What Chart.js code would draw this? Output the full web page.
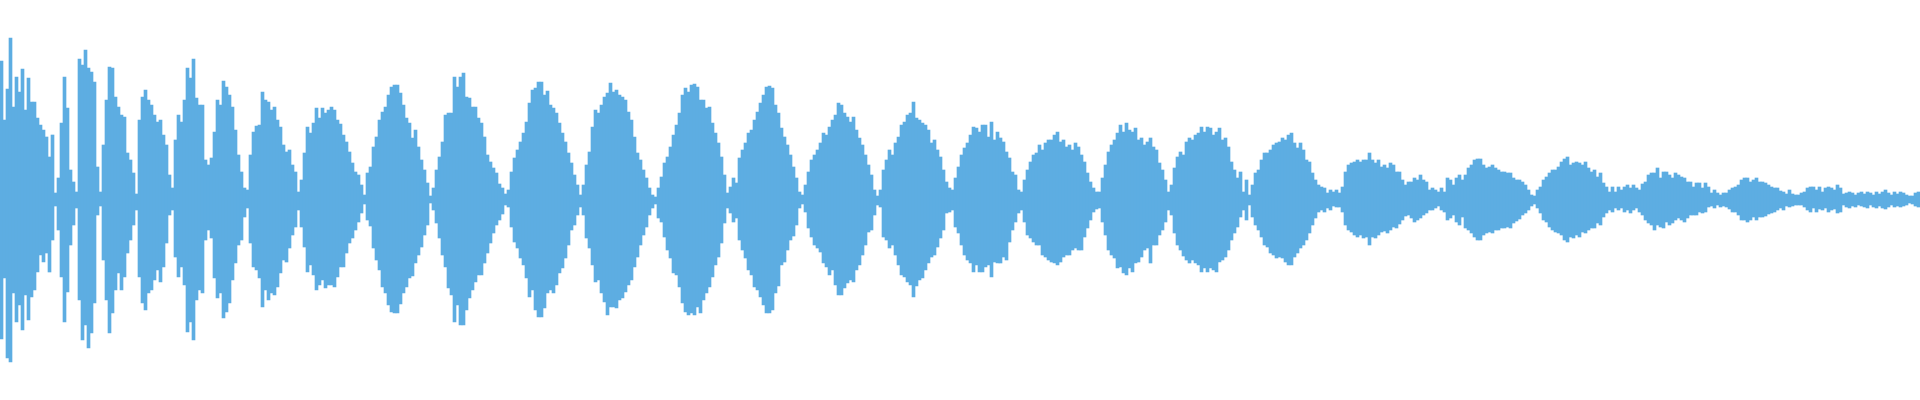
<!DOCTYPE html>
<html>
<head>
<meta charset="utf-8">
<script src="https://cdn.jsdelivr.net/npm/chart.js@4"></script>
<style>
  html, body { margin: 0; padding: 0; background: #fff; }
  #wrap { width: 1920px; height: 400px; }
</style>
</head>
<body>
<div id="wrap"><canvas id="wave"></canvas></div>
<script>
// --- waveform data: one bar per 3px column, peak above / below the zero line ---
const peakHi = [
  139,80,111,162,93,123,108,131,90,122,
  98,98,82,75,70,63,43,65,7,22,
  77,123,92,30,18,8,141,135,150,132,
  128,118,33,8,55,100,133,132,103,93,
  85,83,47,40,27,6,80,103,110,100,
  95,85,78,80,65,55,25,12,60,85,
  78,100,132,122,141,102,95,95,40,35,
  42,68,100,95,119,113,105,93,70,45,
  28,12,10,45,68,74,75,108,100,98,
  90,93,80,73,55,48,50,35,28,8,
  20,47,73,67,77,92,82,92,87,90,
  93,90,80,76,65,58,48,37,28,25,
  15,5,27,33,53,63,80,88,93,105,
  113,115,115,107,95,82,77,62,70,53,
  40,30,17,4,12,30,43,58,85,87,
  87,123,113,123,127,103,102,93,93,82,
  77,63,45,38,32,27,16,12,6,10,
  28,42,50,58,67,78,97,110,112,118,
  118,105,109,95,92,87,77,67,58,47,
  37,25,15,5,15,35,48,73,90,87,
  95,103,107,117,108,110,105,103,100,88,
  80,63,47,40,30,22,12,5,3,12,
  23,37,43,53,65,75,87,105,112,108,
  115,116,113,100,100,92,93,77,67,57,
  43,25,7,13,22,17,42,50,57,67,
  70,80,88,97,105,113,114,112,95,87,
  72,63,55,45,33,22,8,5,15,28,
  40,45,50,57,67,65,73,80,85,97,
  95,87,83,78,83,70,62,55,45,35,
  25,10,4,10,30,40,50,45,57,63,
  75,78,85,87,98,82,80,77,75,70,
  57,60,50,43,30,18,12,10,22,33,
  45,52,57,65,73,72,68,75,75,63,
  78,60,68,62,58,48,42,28,25,10,
  8,20,30,38,45,47,55,50,57,60,
  60,65,68,58,60,53,55,50,57,53,
  45,38,27,18,12,8,8,22,35,48,
  55,60,67,75,68,77,70,68,72,60,
  62,55,58,62,53,50,37,30,20,8,
  15,32,43,48,45,58,62,60,65,67,
  73,68,73,72,65,68,72,60,62,53,
  38,30,22,28,8,20,5,15,27,30,
  40,47,47,50,55,57,58,62,60,65,
  67,57,52,57,50,40,38,27,20,15,
  13,12,7,10,8,10,7,13,28,35,
  37,38,40,38,40,40,47,40,37,40,
  33,35,32,37,35,28,28,20,15,18,
  18,22,20,25,20,18,10,12,10,8,
  12,8,22,20,15,22,25,20,25,32,
  35,40,41,41,35,32,33,35,32,30,
  28,28,27,27,22,20,20,18,15,10,
  5,4,10,13,20,23,27,30,30,33,
  38,41,43,35,37,38,37,35,38,32,
  28,30,23,27,17,13,8,13,8,13,
  10,13,15,12,15,12,10,16,18,25,
  27,27,32,22,28,28,25,22,27,25,
  23,22,18,18,13,17,17,12,17,13,
  7,10,7,5,7,7,10,12,13,15,
  20,22,22,18,20,22,18,18,17,15,
  13,12,12,9,8,6,10,6,5,5,
  7,8,12,13,13,10,13,8,12,13,
  12,10,15,12,6,7,8,7,5,7,
  8,6,8,7,5,8,6,8,10,7,
  5,8,6,8,7,5,4,4,7,8
];
const peakLo = [
  -139,-78,-158,-162,-93,-122,-105,-130,-95,-120,
  -97,-90,-72,-55,-62,-53,-72,-40,-6,-30,
  -77,-122,-92,-45,-25,-8,-100,-140,-125,-148,
  -133,-103,-15,-6,-60,-100,-133,-113,-90,-73,
  -90,-77,-53,-40,-25,-10,-77,-103,-110,-93,
  -90,-80,-70,-82,-67,-43,-15,-10,-57,-77,
  -67,-85,-132,-122,-140,-100,-90,-93,-40,-30,
  -38,-78,-98,-93,-118,-112,-103,-80,-63,-45,
  -40,-17,-8,-43,-67,-70,-78,-107,-90,-100,
  -93,-95,-87,-73,-60,-62,-48,-35,-27,-10,
  -27,-47,-72,-65,-75,-90,-85,-80,-88,-85,
  -85,-87,-77,-67,-67,-53,-43,-38,-30,-22,
  -13,-4,-20,-26,-48,-60,-70,-87,-93,-105,
  -112,-113,-113,-104,-93,-87,-78,-76,-63,-55,
  -47,-35,-25,-3,-10,-23,-38,-55,-67,-88,
  -95,-122,-105,-125,-125,-110,-98,-90,-82,-75,
  -75,-63,-53,-43,-33,-25,-20,-14,-5,-7,
  -27,-42,-48,-58,-65,-78,-97,-90,-110,-117,
  -117,-108,-93,-90,-93,-85,-73,-68,-58,-45,
  -30,-25,-15,-7,-15,-38,-48,-65,-82,-80,
  -93,-102,-115,-107,-107,-108,-100,-98,-92,-85,
  -80,-67,-57,-45,-35,-27,-15,-8,-4,-18,
  -22,-37,-50,-58,-73,-75,-87,-103,-112,-115,
  -113,-115,-107,-113,-100,-93,-87,-77,-65,-57,
  -43,-23,-8,-13,-22,-18,-40,-50,-58,-70,
  -75,-87,-90,-97,-105,-113,-113,-110,-93,-86,
  -65,-62,-50,-40,-36,-25,-8,-4,-12,-28,
  -37,-45,-48,-52,-63,-67,-75,-70,-85,-95,
  -95,-88,-83,-80,-82,-70,-65,-55,-45,-32,
  -30,-15,-5,-7,-37,-40,-48,-45,-55,-65,
  -75,-77,-82,-85,-97,-86,-80,-78,-70,-63,
  -57,-55,-47,-38,-30,-13,-12,-10,-27,-33,
  -45,-55,-60,-63,-72,-65,-72,-72,-67,-65,
  -77,-62,-63,-63,-57,-60,-42,-30,-22,-13,
  -10,-22,-35,-38,-42,-45,-45,-55,-57,-60,
  -62,-63,-65,-62,-57,-55,-55,-50,-48,-50,
  -50,-37,-28,-20,-12,-9,-8,-22,-35,-50,
  -55,-58,-68,-67,-73,-75,-68,-72,-63,-62,
  -57,-50,-48,-63,-45,-45,-35,-30,-22,-10,
  -15,-33,-45,-50,-56,-60,-63,-60,-63,-65,
  -72,-68,-72,-68,-70,-72,-62,-60,-57,-50,
  -40,-33,-27,-17,-10,-20,-5,-17,-25,-30,
  -37,-45,-47,-53,-55,-58,-57,-58,-62,-65,
  -65,-57,-53,-48,-45,-40,-33,-25,-18,-12,
  -10,-12,-8,-10,-6,-7,-7,-12,-25,-30,
  -32,-35,-37,-35,-38,-37,-45,-37,-38,-35,
  -32,-31,-33,-30,-27,-28,-24,-20,-16,-15,
  -18,-22,-20,-18,-15,-13,-10,-10,-8,-6,
  -10,-12,-20,-18,-15,-22,-25,-17,-28,-30,
  -33,-37,-40,-40,-35,-33,-32,-33,-30,-30,
  -28,-28,-27,-28,-23,-21,-19,-15,-13,-10,
  -6,-4,-8,-13,-20,-22,-27,-30,-32,-33,
  -35,-40,-42,-37,-38,-35,-37,-32,-33,-30,
  -28,-28,-23,-25,-17,-13,-10,-12,-8,-10,
  -8,-12,-10,-13,-10,-8,-12,-15,-20,-23,
  -25,-30,-25,-27,-28,-22,-25,-23,-20,-18,
  -20,-22,-18,-15,-15,-15,-12,-13,-12,-7,
  -6,-8,-5,-7,-6,-7,-9,-12,-12,-15,
  -20,-20,-22,-20,-17,-20,-17,-17,-16,-14,
  -13,-12,-10,-8,-10,-6,-7,-6,-5,-5,
  -5,-7,-10,-12,-8,-12,-9,-10,-8,-12,
  -10,-9,-13,-12,-5,-7,-8,-6,-7,-5,
  -6,-7,-8,-5,-7,-8,-6,-8,-9,-7,
  -5,-7,-6,-7,-6,-5,-3,-4,-6,-7
];
const yRange = [-200, 200];

// --- chart ---
const frames = peakHi.map((_, i) => i);
new Chart(document.getElementById('wave'), {
  type: 'bar',
  data: {
    labels: frames,
    datasets: [{
      data: peakHi.map((h, i) => [peakLo[i], h]),
      backgroundColor: '#5dade2',
      borderWidth: 0,
      barPercentage: 1,
      categoryPercentage: 1
    }]
  },
  options: {
    responsive: true,
    maintainAspectRatio: false,
    animation: false,
    layout: { padding: 0 },
    plugins: { legend: { display: false }, tooltip: { enabled: false } },
    scales: {
      x: { display: false },
      y: { display: false, min: yRange[0], max: yRange[1] }
    }
  }
});
</script>
</body>
</html>
